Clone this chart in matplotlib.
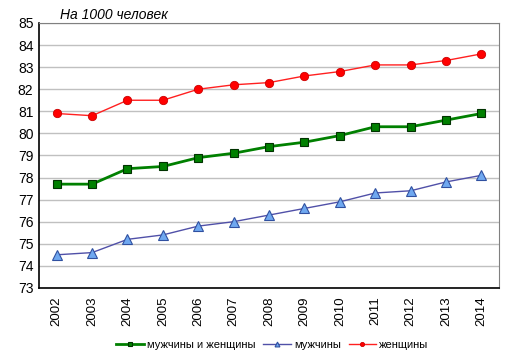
import matplotlib
matplotlib.use("Agg")
import matplotlib.pyplot as plt

plt.rcParams["font.family"] = ["Liberation Sans", "DejaVu Sans"]

years = [str(y) for y in range(2002, 2015)]
both = [77.7, 77.7, 78.4, 78.5, 78.9, 79.1, 79.4, 79.6, 79.9, 80.3, 80.3, 80.6, 80.9]
men = [74.5, 74.6, 75.2, 75.4, 75.8, 76.0, 76.3, 76.6, 76.9, 77.3, 77.4, 77.8, 78.1]
women = [80.9, 80.8, 81.5, 81.5, 82.0, 82.2, 82.3, 82.6, 82.8, 83.1, 83.1, 83.3, 83.6]

fig = plt.figure(figsize=(5.13, 3.59), dpi=100)
ax = fig.add_axes([0.076, 0.198, 0.897, 0.738])

x = range(len(years))
ax.plot(x, both, color="#008000", lw=2, marker="s", ms=5.5,
        mfc="#008000", mec="#003300", mew=0.8, label="мужчины и женщины")
ax.plot(x, men, color="#5050a8", lw=1, marker="^", ms=7,
        mfc="#6fa8f0", mec="#3050a0", mew=0.8, label="мужчины")
ax.plot(x, women, color="#ff2020", lw=1, marker="o", ms=6,
        mfc="#ff0000", mec="#cc0000", mew=0.6, label="женщины")

ax.set_xlim(-0.5, len(years) - 0.5)
ax.set_ylim(73, 85)
ax.set_yticks(range(73, 86))
ax.set_xticks(list(x))
ax.set_xticklabels(years, rotation=90, fontsize=9.5)
ax.tick_params(axis="y", labelsize=10, length=0, pad=4)
ax.tick_params(axis="x", length=0, pad=6)
ax.yaxis.grid(True, color="#c0c0c0", lw=1)
ax.set_axisbelow(True)

for s in ["top", "right"]:
    ax.spines[s].set_color("#808080")
for s in ["left", "bottom"]:
    ax.spines[s].set_color("black")
    ax.spines[s].set_linewidth(1.2)

fig.text(0.117, 0.948, "На 1000 человек", fontsize=10, style="italic")

fig.legend(loc="lower center", bbox_to_anchor=(0.531, 0.0), ncol=3,
           frameon=False, fontsize=8, handlelength=2.5, columnspacing=0.7,
           handletextpad=0.25, borderaxespad=0.4, markerscale=0.5)

fig.savefig("out.png", dpi=100)
